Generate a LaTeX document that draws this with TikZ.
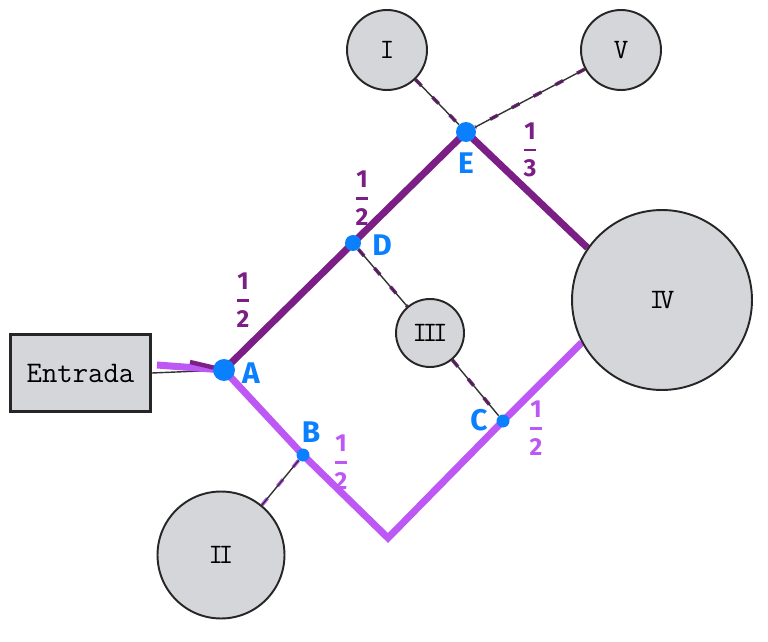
\documentclass[tikz,border=0pt]{standalone}
\usepackage{amsmath}
\usepackage{fontspec}
\newfontfamily\mao{Fira Sans}
\usetikzlibrary{backgrounds}
\definecolor{roxo}{RGB}{123,31,135}
\definecolor{lilas}{RGB}{190,88,245}
\definecolor{azul}{RGB}{10,128,255}
\definecolor{cinza}{RGB}{213,214,217}
\newcommand{\fracao}[2]{$\genfrac{}{}{1.6pt}{0}{\text{\mao\bfseries #1}}{\text{\mao\bfseries #2}}$}
\newcommand{\jt}{\kern-.15em}

\begin{document}
\begin{tikzpicture}[x=0.02cm,y=-0.02cm,
    sala/.style={circle,draw=black!85,line width=1.1pt,fill=cinza,inner sep=0pt,
      font=\ttfamily\fontsize{16}{16}\selectfont},
    ponto/.style={circle,fill=azul,inner sep=0pt},
    letra/.style={text=azul,font=\mao\bfseries\fontsize{17}{17}\selectfont},
    num/.style={font=\fontsize{14}{14}\selectfont},
    corredor/.style={line width=4pt},
    ligacao/.style={draw=black!80,line width=0.8pt}]
          \useasboundingbox (0,0) rectangle (768,642);

          % entrada
          \node[draw=black!85,line width=1.6pt,fill=cinza,minimum width=2.8cm,minimum height=1.54cm,
            font=\ttfamily\fontsize{17}{17}\selectfont] (entrada) at (80.5,373) {Entrada};

          % salas I .. V
          \node[sala,minimum size=1.6cm] (I) at (387,50) {I};
          \node[sala,minimum size=2.54cm] (II) at (221,555) {I\jt I};
          \node[sala,minimum size=1.36cm] (III) at (430,333) {I\jt I\jt I};
          \node[sala,minimum size=3.6cm] (IV) at (662,300) {I\jt V};
          \node[sala,minimum size=1.6cm] (V) at (621,50) {V};

          % pontos A .. E
          \node[ponto,minimum size=0.44cm] (A) at (224,370) {};
          \node[ponto,minimum size=0.26cm] (B) at (303,455) {};
          \node[ponto,minimum size=0.26cm] (C) at (503,421) {};
          \node[ponto,minimum size=0.32cm] (D) at (353,243) {};
          \node[ponto,minimum size=0.40cm] (E) at (466,132) {};
          \coordinate (fundo) at (388,538);

          \begin{scope}[on background layer]
            % entrada -> A
            \draw[ligacao] (entrada.east) -- (A.center);
            \draw[corredor,lilas] (157,365) -- (A.center);
            \draw[roxo,line width=2.5pt] (190,362) -- (A.center);

            % corredores
            \draw[corredor,roxo] (A.center) -- (D.center) -- (E.center) -- (IV.145);
            \draw[corredor,lilas] (A.center) -- (B.center) -- (fundo) -- (C.center) -- (IV.208);

            % ligacoes riscadas
            \foreach \a/\b/\c in {I/E/roxo, V/E/roxo, D/III/roxo, III/C/roxo, II/B/lilas} {
              \draw[\c,line width=2pt,dash pattern=on 5pt off 9pt] (\a) -- (\b);
              \draw[ligacao] (\a) -- (\b);
            }
          \end{scope}

          % letras
          \node[letra] (lA) at (251,373) {A};
          \node[letra] (lB) at (311,432) {B};
          \node[letra] (lC) at (479,420) {C};
          \node[letra] (lD) at (382,245) {D};
          \node[letra] (lE) at (466,163) {E};

          % fracoes
          \node[num,text=roxo] (fAD) at (243,300) {\fracao12};
          \node[num,text=roxo] (fDE) at (362,198) {\fracao12};
          \node[num,text=roxo] (fE) at (530,150) {\fracao13};
          \node[num,text=lilas] (fB) at (341,462) {\fracao12};
          \node[num,text=lilas] (fC) at (536,428) {\fracao12};

\end{tikzpicture}
\end{document}
